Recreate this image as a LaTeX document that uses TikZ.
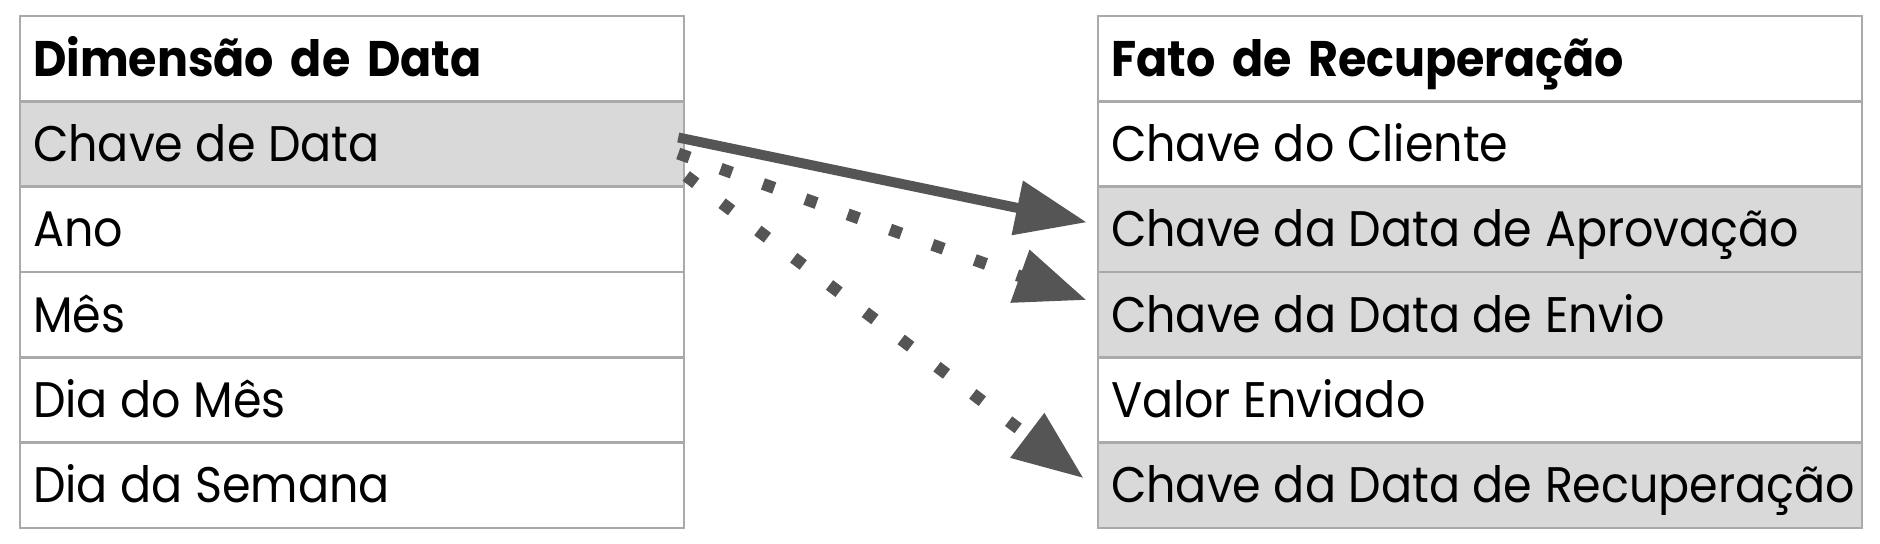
\documentclass[tikz,border=0pt]{standalone}
\usepackage{fontspec}
\setmainfont{Poppins}[FakeStretch=0.92]
\usetikzlibrary{arrows.meta,calc}
\definecolor{rowgray}{HTML}{D9D9D9}
\definecolor{bordergray}{HTML}{AAAAAA}
\definecolor{arrowgray}{HTML}{555555}
\begin{document}
\begin{tikzpicture}[x=0.5pt,y=-0.5pt,
  cellbase/.style={draw=bordergray, line width=1.25pt, fill=white, minimum height=42.67pt,
    text height=17.5pt, text depth=0pt, inner ysep=0pt, inner xsep=6.5pt, align=left,
    font=\fontsize{25}{30}\selectfont},
  cell/.style={cellbase, execute at begin node={\spaceskip=6.3pt plus 1pt\relax}},
  head/.style={cellbase, font=\fontsize{25}{30}\selectfont\bfseries},
  lw/.style={text width=319pt},
  rw/.style={text width=369pt},
  keyrow/.style={fill=rowgray},
  link/.style={draw=arrowgray, -{Triangle[length=35.5pt,width=26.5pt]}},
  solidlink/.style={link, line width=5pt},
  dotlink/.style={link, line width=6pt, dash pattern=on 6pt off 16.5pt}
]
\fill[white] (0,0) rectangle (1880,544);
\useasboundingbox (0,0) rectangle (1880,544);

% left table
\node[head, lw] (lh) at (352, 58.67) {Dimensão de Data};
\node[cell, lw, keyrow] (ld) at (352, 144) {Chave de Data};
\node[cell, lw] (la) at (352, 229.33) {Ano};
\node[cell, lw] (lm) at (352, 314.67) {Mês};
\node[cell, lw] (ldm) at (352, 400) {Dia do Mês};
\node[cell, lw] (lds) at (352, 485.33) {Dia da Semana};

% right table
\node[head, rw] (rh) at (1480, 58.67) {Fato de Recuperação};
\node[cell, rw] (rc) at (1480, 144) {Chave do Cliente};
\node[cell, rw, keyrow] (rapr) at (1480, 229.33) {\mbox{Chave da Data de Aprovação}};
\node[cell, rw, keyrow] (renv) at (1480, 314.67) {Chave da Data de Envio};
\node[cell, rw] (rv) at (1480, 400) {Valor Enviado};
\node[cell, rw, keyrow] (rrec) at (1480, 485.33) {\mbox{Chave da Data de Recuperação}};

% connectors
\draw[solidlink] ($(ld.east)+(-7,-6.5)$) -- ($(rapr.west)+(-10,-7)$);
\draw[dotlink] ($(ld.east)+(-7,9.5)$) -- ($(renv.west)+(-10,-14.5)$);
\draw[dotlink] ($(ld.east)+(1,32)$) -- ($(rrec.west)+(-13,-7)$);
\end{tikzpicture}
\end{document}
